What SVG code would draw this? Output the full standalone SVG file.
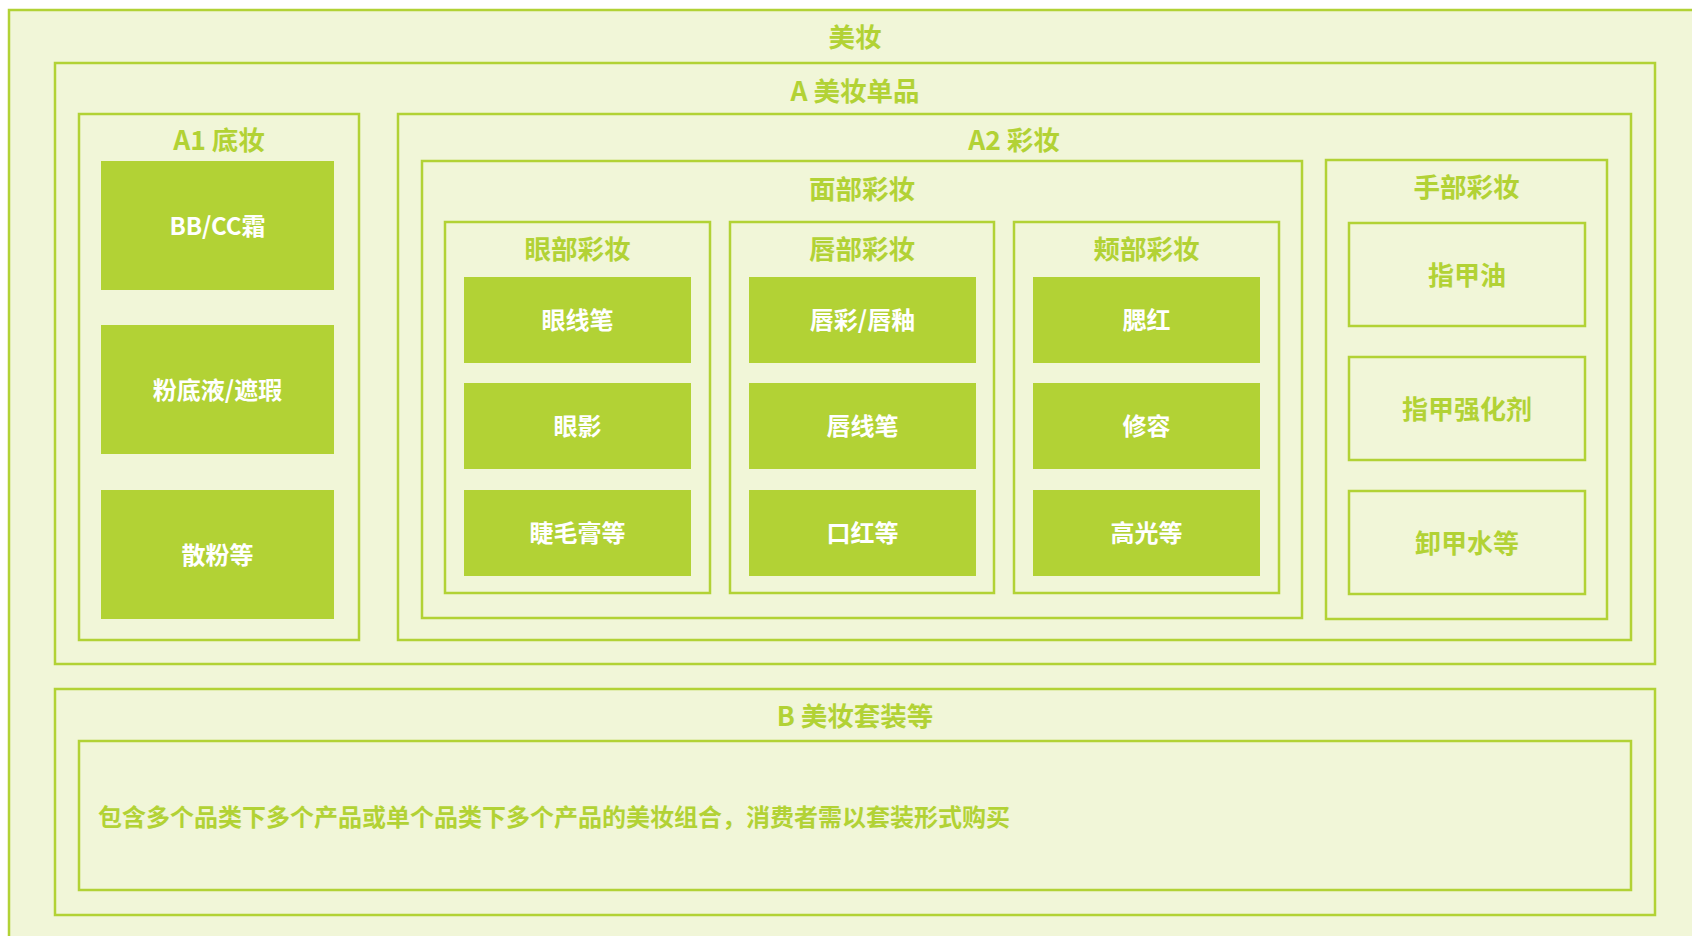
<svg xmlns="http://www.w3.org/2000/svg" width="1692" height="936" viewBox="0 0 1692 936">
<style>
.box{fill:#F1F6D8;stroke:#B2D235;stroke-width:2.5}
.item{fill:#B2D235}
.t{font-family:"Noto Sans CJK SC","Microsoft YaHei",sans-serif;font-weight:bold;text-anchor:middle;dominant-baseline:central}
.title{fill:#B2D235;font-size:26.5px}
.wt{fill:#FFFFFF;font-size:24px}
.gt{fill:#B2D235;font-size:26px}
.desc{fill:#B2D235;font-size:24px;text-anchor:start}
</style>
<rect x="0" y="0" width="1692" height="936" fill="#FFFFFF"/>
<g id="root">
<rect class="box" x="9" y="10" width="1700" height="940"/>
<text class="t title" x="855" y="35">美妆</text>
</g>
<g id="A">
<rect class="box" x="55" y="63" width="1600" height="601"/>
<text class="t title" x="855" y="89">A 美妆单品</text>
</g>
<g id="A1">
<rect class="box" x="79" y="114" width="280" height="526"/>
<text class="t title" x="219" y="138.5">A1 底妆</text>
</g>
<g id="A1-bb"><rect class="item" x="101" y="161" width="233" height="129"/><text class="t wt" x="217.5" y="224.5">BB/CC霜</text></g>
<g id="A1-foundation"><rect class="item" x="101" y="325" width="233" height="129"/><text class="t wt" x="217.5" y="388.5">粉底液/遮瑕</text></g>
<g id="A1-powder"><rect class="item" x="101" y="490" width="233" height="129"/><text class="t wt" x="217.5" y="553.5">散粉等</text></g>
<g id="A2">
<rect class="box" x="398" y="114" width="1233" height="526"/>
<text class="t title" x="1014" y="138.5">A2 彩妆</text>
</g>
<g id="face">
<rect class="box" x="422" y="161" width="880" height="457"/>
<text class="t title" x="862" y="187">面部彩妆</text>
</g>
<g id="eye">
<rect class="box" x="445" y="222" width="265" height="371"/>
<text class="t title" x="577.5" y="247">眼部彩妆</text>
</g>
<g id="eye-1"><rect class="item" x="464" y="277" width="227" height="86"/><text class="t wt" x="577.5" y="318.5">眼线笔</text></g>
<g id="eye-2"><rect class="item" x="464" y="383" width="227" height="86"/><text class="t wt" x="577.5" y="424.5">眼影</text></g>
<g id="eye-3"><rect class="item" x="464" y="490" width="227" height="86"/><text class="t wt" x="577.5" y="531.5">睫毛膏等</text></g>
<g id="lip">
<rect class="box" x="730" y="222" width="264" height="371"/>
<text class="t title" x="862" y="247">唇部彩妆</text>
</g>
<g id="lip-1"><rect class="item" x="749" y="277" width="227" height="86"/><text class="t wt" x="862.5" y="318.5">唇彩/唇釉</text></g>
<g id="lip-2"><rect class="item" x="749" y="383" width="227" height="86"/><text class="t wt" x="862.5" y="424.5">唇线笔</text></g>
<g id="lip-3"><rect class="item" x="749" y="490" width="227" height="86"/><text class="t wt" x="862.5" y="531.5">口红等</text></g>
<g id="cheek">
<rect class="box" x="1014" y="222" width="265" height="371"/>
<text class="t title" x="1146.5" y="247">颊部彩妆</text>
</g>
<g id="cheek-1"><rect class="item" x="1033" y="277" width="227" height="86"/><text class="t wt" x="1146.5" y="318.5">腮红</text></g>
<g id="cheek-2"><rect class="item" x="1033" y="383" width="227" height="86"/><text class="t wt" x="1146.5" y="424.5">修容</text></g>
<g id="cheek-3"><rect class="item" x="1033" y="490" width="227" height="86"/><text class="t wt" x="1146.5" y="531.5">高光等</text></g>
<g id="hand">
<rect class="box" x="1326" y="160" width="281" height="459"/>
<text class="t title" x="1466.5" y="185">手部彩妆</text>
</g>
<g id="hand-1"><rect class="box" x="1349" y="223" width="236" height="103"/><text class="t gt" x="1467" y="273">指甲油</text></g>
<g id="hand-2"><rect class="box" x="1349" y="357" width="236" height="103"/><text class="t gt" x="1467" y="407">指甲强化剂</text></g>
<g id="hand-3"><rect class="box" x="1349" y="491" width="236" height="103"/><text class="t gt" x="1467" y="541">卸甲水等</text></g>
<g id="B">
<rect class="box" x="55" y="689" width="1600" height="226"/>
<text class="t title" x="855" y="714">B 美妆套装等</text>
</g>
<g id="B-desc">
<rect class="box" x="79" y="741" width="1552" height="149"/>
<text class="t desc" x="98" y="815">包含多个品类下多个产品或单个品类下多个产品的美妆组合，消费者需以套装形式购买</text>
</g>
<g id="connectors"></g>
</svg>
